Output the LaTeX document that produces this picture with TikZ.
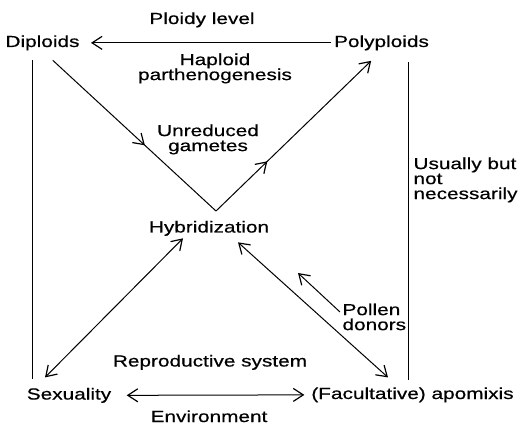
\documentclass[tikz,border=0pt]{standalone}
\usepackage{fontspec}
\setmainfont{Liberation Sans}[FakeStretch=1.3, FakeBold=0.5]
\usetikzlibrary{arrows.meta,calc,decorations.markings}

\tikzset{
	lbl/.style={inner sep=0pt, font=\fontsize{16}{15}\selectfont},
	midarr/.style={postaction={decorate},
		decoration={markings, mark=at position #1 with {\arrow{>}}}}
}

\begin{document}
\begin{tikzpicture}[x=1pt, y=-1pt, line width=1pt, >={Straight Barb[length=10pt,width=13pt,line width=1.2pt]}]
			%%%%% START %%%%%
			\useasboundingbox (0,0) rectangle (518,427);
			
			\node[lbl, anchor=base] (ploidy) at (202,24) {Ploidy level};
			\node[lbl, anchor=base] (dip) at (42.5,47) {Diploids};
			\node[lbl, anchor=base] (poly) at (381.5,47) {Polyploids};
			\node[lbl, anchor=north, align=center] (hap) at (215,53) {Haploid\\parthenogenesis};
			\node[lbl, anchor=north, align=center] (unred) at (208,124) {Unreduced\\gametes};
			\node[lbl, anchor=north west, align=left] (usu) at (413,157) {Usually but\\not\\necessarily};
			\node[lbl, anchor=base] (hyb) at (209,232.5) {Hybridization};
			\node[lbl, anchor=north west, align=left] (pollen) at (342,303) {Pollen\\donors};
			\node[lbl, anchor=base] (repro) at (210,366.5) {Reproductive system};
			\node[lbl, anchor=base] (sex) at (69,399.5) {Sexuality};
			\node[lbl, anchor=base] (apo) at (412.5,399) {(Facultative) apomixis};
			\node[lbl, anchor=base] (env) at (209,422) {Environment};
			
			\coordinate (vb) at (216,211);
			\coordinate (lx) at (32,0);
			\coordinate (rx) at (408,0);
			\coordinate (pd) at (298,273);
			
			% ploidy level
			\draw[->, shorten <=3pt, shorten >=11pt] (poly.west) -- (dip.east);
			\draw[shorten <=9.6pt, shorten >=8.8pt] (dip.south -| lx) -- (sex.north -| lx);
			\draw[shorten <=11.6pt, shorten >=6.8pt] (poly.south -| rx) -- (apo.north -| rx);
			
			% the V through hybridization
			\draw[midarr=0.59, shorten <=14pt] (dip.south) -- (vb);
			\draw[midarr=0.31, ->, shorten >=14.4pt] (vb) -- (poly.south);
			
			% reproductive system
			\draw[<->] ($(sex.north)+(-24,-10)$) -- ($(hyb.south)+(-26,2)$);
			\draw[<->] ($(apo.north)+(-24.5,-9.5)$) -- ($(hyb.south)+(29,6)$);
			\draw[->] ($(pollen.north west)+(-2,9)$) -- (pd);
			\draw[<->, shorten <=15pt, shorten >=6.5pt] (sex.east) -- (apo.west);
			%%%%% END %%%%%
		\end{tikzpicture}
\end{document}
